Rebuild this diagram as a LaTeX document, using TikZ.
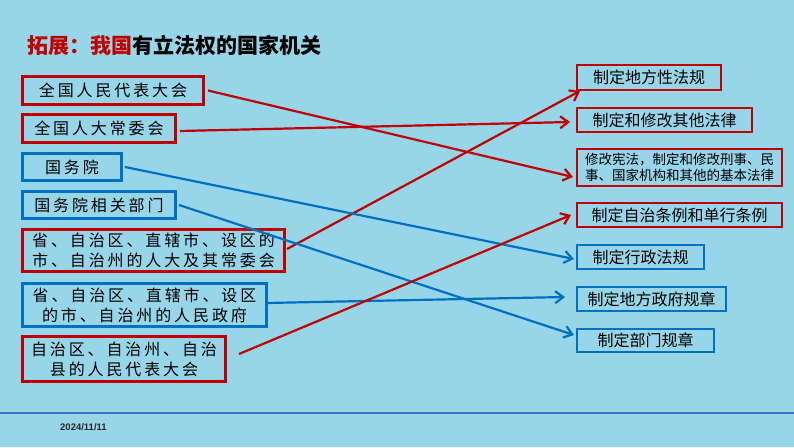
\documentclass[tikz,border=0pt]{standalone}
\usepackage{fontspec}
\usepackage{tikz}
\usetikzlibrary{arrows.meta}
\newfontfamily\cjk{Noto Sans CJK SC}
\newfontfamily\cjkwide[LetterSpace=18]{Noto Sans CJK SC}
\newfontfamily\datefont{Liberation Sans}
\definecolor{slidebg}{RGB}{151,214,232}
\definecolor{boxred}{HTML}{C00000}
\definecolor{boxblue}{HTML}{0070C0}
\definecolor{rulblue}{HTML}{3A74C6}

\begin{document}
\begin{tikzpicture}[x=1pt, y=-1pt,
      lbox/.style={draw, line width=3pt, inner sep=0pt, align=center,
                   font=\cjkwide\fontsize{16}{20}\selectfont},
      rbox/.style={draw, line width=2pt, inner sep=0pt, align=center,
                   font=\cjk\fontsize{16}{20}\selectfont},
      arr/.style={-{Straight Barb[length=8pt, width=12pt]}, line width=2.2pt}
    ]
      \fill[slidebg] (0,0) rectangle (794,447);
      \useasboundingbox (0,0) rectangle (794,447);

      \node[anchor=west, font=\cjk\bfseries\fontsize{21}{24}\selectfont] (title) at (24,45)
        {\textcolor{boxred}{拓展：我国}有立法权的国家机关};

      \node[lbox, boxred, text=black, minimum width=181, minimum height=28] (l1) at (113,90.5) {全国人民代表大会};
      \node[lbox, boxred, text=black, minimum width=153, minimum height=28] (l2) at (99,128.5) {全国人大常委会};
      \node[lbox, boxblue, text=black, minimum width=99, minimum height=27] (l3) at (72,167) {国务院};
      \node[lbox, boxblue, text=black, minimum width=153, minimum height=27] (l4) at (99,205) {国务院相关部门};
      \node[lbox, boxred, text=black, minimum width=262, minimum height=42] (l5) at (153.5,250.5)
        {省、自治区、直辖市、设区的\\市、自治州的人大及其常委会};
      \node[lbox, boxblue, text=black, minimum width=244, minimum height=43] (l6) at (144.5,305)
        {省、自治区、直辖市、设区\\的市、自治州的人民政府};
      \node[lbox, boxred, text=black, minimum width=203, minimum height=45] (l7) at (124,359)
        {自治区、自治州、自治\\县的人民代表大会};

      \node[rbox, boxred, text=black, minimum width=144, minimum height=25] (r1) at (649,77.5) {制定地方性法规};
      \node[rbox, boxred, text=black, minimum width=175, minimum height=24] (r2) at (664.5,120) {制定和修改其他法律};
      \node[rbox, boxred, text=black, minimum width=205, minimum height=37,
            font=\cjk\fontsize{13.5}{15.5}\selectfont] (r3) at (679.5,167.5)
        {修改宪法，制定和修改刑事、民\\事、国家机构和其他的基本法律};
      \node[rbox, boxred, text=black, minimum width=205, minimum height=24] (r4) at (679.5,215) {制定自治条例和单行条例};
      \node[rbox, boxblue, text=black, minimum width=127, minimum height=24] (r5) at (640.5,257) {制定行政法规};
      \node[rbox, boxblue, text=black, minimum width=149, minimum height=24] (r6) at (651.5,299) {制定地方政府规章};
      \node[rbox, boxblue, text=black, minimum width=137, minimum height=23] (r7) at (645.5,340.5) {制定部门规章};

      \draw[arr, boxred] ([xshift=3pt]l1.east) -- ([xshift=-3pt, yshift=-9.5pt]r3.west);
      \draw[arr, boxred] ([xshift=3pt, yshift=-2.5pt]l2.east) -- ([xshift=-6pt, yshift=-2pt]r2.west);
      \draw[arr, boxred] ([xshift=1pt, yshift=1.5pt]l5.east) -- ([xshift=4pt]r1.south west);
      \draw[arr, boxblue] ([xshift=2pt]l3.east) -- ([xshift=-2pt, yshift=-2pt]r5.west);
      \draw[arr, boxblue] ([xshift=2pt]l4.east) -- ([xshift=-2pt, yshift=5.5pt]r7.west);
      \draw[arr, boxblue] ([xshift=-2pt, yshift=2pt]l6.east) -- ([xshift=-11pt, yshift=2pt]r6.west);
      \draw[arr, boxred] ([xshift=12pt, yshift=5pt]l7.east) -- ([xshift=-5pt]r4.west);

      \coordinate (rulel) at (0,413);
      \coordinate (ruler) at (794,413);
      \draw[rulblue, line width=1.5pt] (rulel) -- (ruler);
      \node[anchor=west, inner sep=0pt, text=black!85, font=\datefont\bfseries\fontsize{9.5}{11}\selectfont] (date) at (60,427) {2024/11/11};
    \end{tikzpicture}
\end{document}
